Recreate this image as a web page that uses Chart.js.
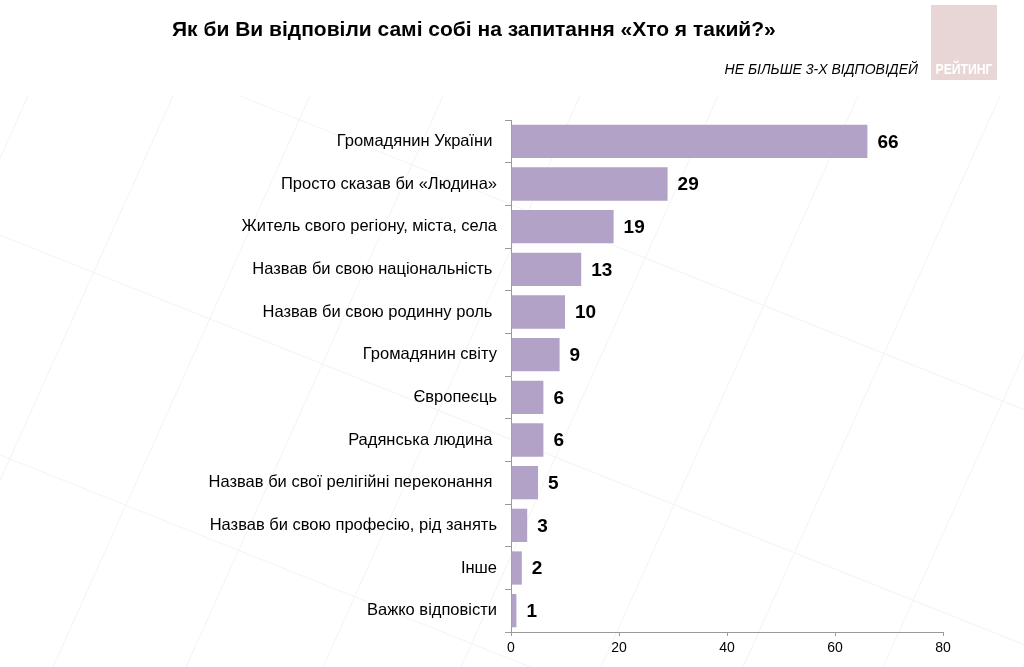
<!DOCTYPE html>
<html>
<head>
<meta charset="utf-8">
<script src="https://cdn.jsdelivr.net/npm/chart.js@4.4.1/dist/chart.umd.min.js"></script>
<style>
  html, body { margin: 0; padding: 0; background: #ffffff; }
  #wrap { position: relative; width: 1024px; height: 667px; }
</style>
</head>
<body>
<div id="wrap"><canvas id="c" width="1024" height="667"></canvas></div>
<script>
const categories = [
  "Громадянин України ",
  "Просто сказав би «Людина»",
  "Житель свого регіону, міста, села",
  "Назвав би свою національність ",
  "Назвав би свою родинну роль ",
  "Громадянин світу",
  "Європеєць",
  "Радянська людина ",
  "Назвав би свої релігійні переконання ",
  "Назвав би свою професію, рід занять",
  "Інше",
  "Важко відповісти"
];
const values = [66, 29, 19, 13, 10, 9, 6, 6, 5, 3, 2, 1];
const xTicks = [0, 20, 40, 60, 80];
const titleText = "Як би Ви відповіли самі собі на запитання «Хто я такий?»";
const subtitleText = "НЕ БІЛЬШЕ 3-Х ВІДПОВІДЕЙ";
const logoText = "РЕЙТИНГ";

const FONT = "'Liberation Sans Narrow', 'Arial Narrow', 'Liberation Sans', Arial, sans-serif";

const decor = {
  id: 'decor',
  beforeDraw(chart) {
    const ctx = chart.ctx;
    const W = chart.width, H = chart.height;
    ctx.save();
    ctx.fillStyle = '#ffffff';
    ctx.fillRect(0, 0, W, H);
    // faint decorative background grid
    ctx.beginPath();
    ctx.rect(0, 96, W, H - 96);
    ctx.clip();
    ctx.strokeStyle = '#f3f3f3';
    ctx.lineWidth = 1;
    const steepTops = [28, 173, 310, 443, 580, 718, 858, 1000, 1140, 1280];
    steepTops.forEach(x0 => {
      ctx.beginPath();
      ctx.moveTo(x0, 96);
      ctx.lineTo(x0 - 0.45 * (H - 96), H);
      ctx.stroke();
    });
    const shallow = [0, 235, 455];
    shallow.forEach(y0 => {
      ctx.beginPath();
      ctx.moveTo(0, y0);
      ctx.lineTo(W, y0 + 0.4 * W);
      ctx.stroke();
    });
    ctx.restore();

    ctx.save();
    // logo block
    ctx.fillStyle = '#e8d5d6';
    ctx.fillRect(931, 5, 66, 75);
    ctx.fillStyle = '#ffffff';
    ctx.font = "bold 15px " + FONT;
    ctx.textAlign = 'center';
    ctx.textBaseline = 'middle';
    ctx.fillText(logoText, 964, 70, 57);
    // title
    ctx.fillStyle = '#000000';
    ctx.font = "bold 21px " + FONT;
    ctx.textAlign = 'left';
    ctx.textBaseline = 'middle';
    ctx.fillText(titleText, 172, 30);
    // subtitle
    ctx.font = "italic 14px " + FONT;
    ctx.textAlign = 'right';
    ctx.fillText(subtitleText, 918, 70);
    ctx.restore();
  },
  afterDatasetsDraw(chart) {
    const ctx = chart.ctx;
    const meta = chart.getDatasetMeta(0);
    ctx.save();
    ctx.fillStyle = '#000000';
    ctx.font = "bold 19px " + FONT;
    ctx.textAlign = 'left';
    ctx.textBaseline = 'middle';
    meta.data.forEach((bar, i) => {
      ctx.fillText(String(values[i]), bar.x + 10, bar.y + 1);
    });
    ctx.restore();
  }
};

new Chart(document.getElementById('c'), {
  type: 'bar',
  data: {
    labels: categories,
    datasets: [{
      data: values,
      backgroundColor: '#b3a2c8',
      borderWidth: 0,
      barPercentage: 0.78,
      categoryPercentage: 1.0
    }]
  },
  options: {
    indexAxis: 'y',
    responsive: false,
    animation: false,
    devicePixelRatio: 1,
    layout: { padding: { left: 0, top: 120, right: 81, bottom: 0 } },
    plugins: {
      legend: { display: false },
      title: { display: false },
      tooltip: { enabled: false }
    },
    scales: {
      x: {
        min: 0, max: 80,
        afterFit(s) { s.height = 35; },
        afterBuildTicks(s) { s.ticks = xTicks.map(v => ({ value: v })); },
        grid: { display: true, drawOnChartArea: false, drawTicks: true, tickLength: 4, color: '#9a9a9a' },
        border: { display: true, color: '#9a9a9a', width: 1 },
        ticks: { color: '#000000', font: { family: FONT, size: 14 }, padding: 4, maxRotation: 0 }
      },
      y: {
        afterFit(s) { s.width = 511; },
        grid: { display: true, drawOnChartArea: false, drawTicks: true, tickLength: 6, offset: true, color: '#9a9a9a' },
        border: { display: true, color: '#9a9a9a', width: 1 },
        ticks: { color: '#000000', font: { family: FONT, size: 16.5 }, padding: 8, autoSkip: false }
      }
    }
  },
  plugins: [decor]
});
</script>
</body>
</html>
